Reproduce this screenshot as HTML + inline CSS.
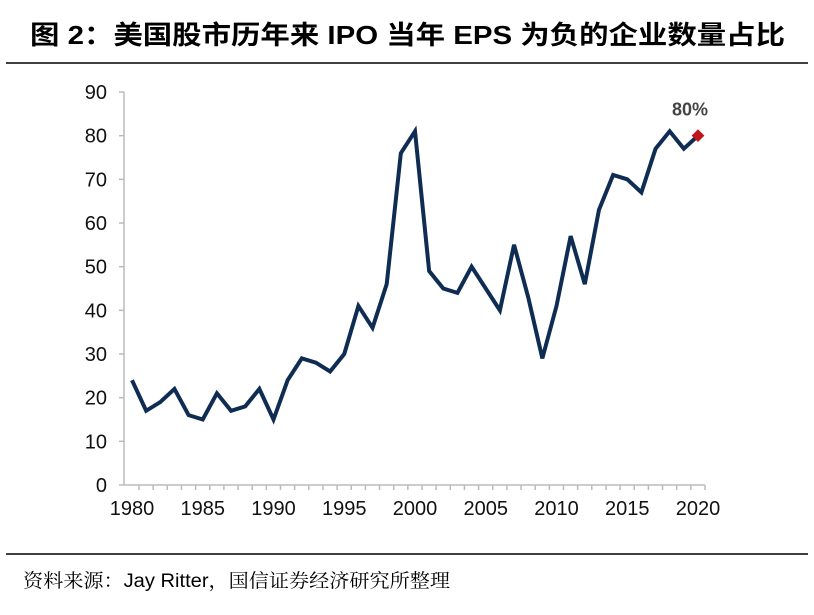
<!DOCTYPE html>
<html><head><meta charset="utf-8"><style>
body{margin:0;background:#fff;width:814px;height:610px;overflow:hidden;font-family:"Liberation Sans","Noto Sans CJK SC",sans-serif}
</style></head><body>
<svg width="814" height="610">
<text x="30" y="44" font-size="26" font-weight="bold" textLength="755" lengthAdjust="spacingAndGlyphs" font-family="Liberation Sans,Noto Sans CJK SC,sans-serif">图 2：美国股市历年来 IPO 当年 EPS 为负的企业数量占比</text>
<line x1="6" y1="63" x2="808" y2="63" stroke="#000" stroke-width="1.5"/>
<line x1="6" y1="554" x2="808" y2="554" stroke="#000" stroke-width="1.5"/>
<text x="23" y="587" font-size="19" textLength="427" lengthAdjust="spacingAndGlyphs" font-family="Liberation Sans,Noto Serif CJK SC,serif">资料来源：Jay Ritter，国信证券经济研究所整理</text>
<g id="yaxis"></g><g id="xaxis"></g><g id="plot"></g>
</svg>
<script>
const years=[];for(let y=1980;y<=2020;y++)years.push(y);
const values=[24,17,19,22,16,15,21,17,18,22,15,24,29,28,26,30,41,36,46,76,81,49,45,44,50,45,40,55,43,29,41,57,46,63,71,70,67,77,81,77,80];
const yTicks=[0,10,20,30,40,50,60,70,80,90];
const xTickLabels=[1980,1985,1990,1995,2000,2005,2010,2015,2020];
const NS='http://www.w3.org/2000/svg';
const x=v=>132+(v-1980)*14.15;
const y=v=>485-v*(393/90);
function mk(t,a,p){const e=document.createElementNS(NS,t);for(const k in a)e.setAttribute(k,a[k]);p.appendChild(e);return e;}
const ya=document.getElementById('yaxis'),xa=document.getElementById('xaxis'),pl=document.getElementById('plot');
let e=mk('line',{x1:124,y1:y(90),x2:124,y2:y(0),stroke:'#bbb','stroke-width':1.5},ya);


yTicks.forEach(t=>{
 const l=mk('line',{x1:119,x2:124,y1:y(t),y2:y(t),stroke:'#bbb','stroke-width':1.5},ya);
 
 
 const tx=mk('text',{x:107,y:y(t)+7,'text-anchor':'end','font-size':20,fill:'#111'},ya);tx.textContent=t;
 
 
});
e=mk('line',{x1:124,y1:y(0),x2:x(2020)+7,y2:y(0),stroke:'#bbb','stroke-width':1.5},xa);


years.forEach(v=>{const l=mk('line',{x1:x(v)+7,x2:x(v)+7,y1:y(0),y2:y(0)+5,stroke:'#bbb','stroke-width':1.5},xa);
 
 
});
xTickLabels.forEach(v=>{const tx=mk('text',{x:x(v),y:515,'text-anchor':'middle','font-size':20,fill:'#111'},xa);tx.textContent=v;
 
 
});
const pts=years.map((v,i)=>x(v)+','+y(values[i])).join(' ');
const line=mk('polyline',{points:pts,fill:'none',stroke:'#0f2d52','stroke-width':4,'stroke-linejoin':'miter'},pl);


const lx=x(2020),ly=y(values[values.length-1]);
const d=mk('rect',{x:lx-4.5,y:ly-4.5,width:9,height:9,fill:'#c0151b',transform:`rotate(45 ${lx} ${ly})`},pl);


const lb=mk('text',{x:lx-8,y:ly-20,'text-anchor':'middle','font-size':18,'font-weight':'bold',fill:'#444'},pl);lb.textContent=values[values.length-1]+'%';


</script>
</body></html>
